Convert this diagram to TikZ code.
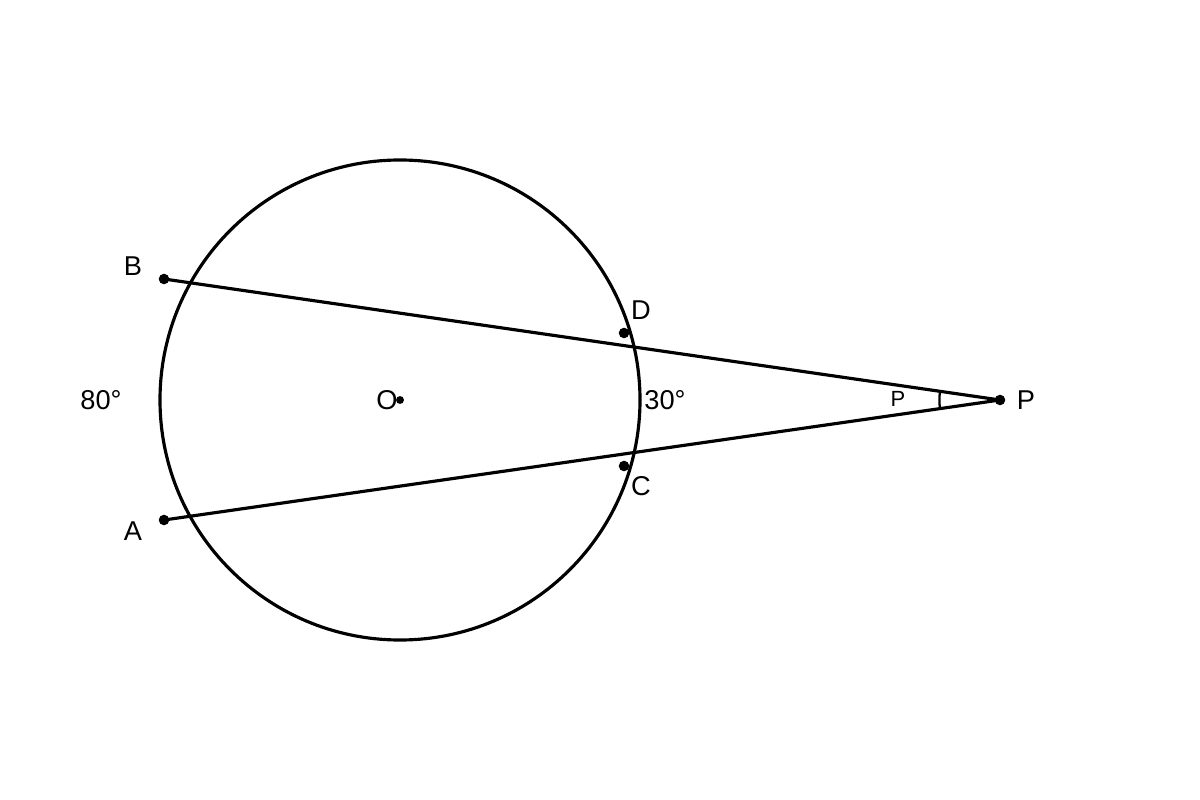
\documentclass[tikz,border=0pt]{standalone}
\usepackage{fontspec}
\usetikzlibrary{calc}
\setmainfont{Liberation Sans}
\begin{document}
\begin{tikzpicture}[x=0.02cm,y=-0.02cm,
  ln/.style={line width=1.8pt},
  dot/.style={circle,fill=black,inner sep=0pt,minimum size=6pt},
  lbl/.style={inner sep=0pt,font=\fontsize{15.5}{17}\selectfont},
  slbl/.style={inner sep=0pt,font=\fontsize{12.5}{14}\selectfont}]
\useasboundingbox (0,0) rectangle (1200,800);
\coordinate (Oc) at (400,400);
\draw[ln] (Oc) circle[radius=240];
\node[dot] (B) at (164,279) {};
\node[dot] (A) at (164,520) {};
\node[dot] (P) at (1000,400) {};
\node[dot] (D) at (624,333) {};
\node[dot] (C) at (624,466) {};
\node[dot,minimum size=4.5pt] (O) at (400,400) {};
\draw[ln] (B.center) -- (P.center);
\draw[ln] (A.center) -- (P.center);
\draw[line width=1.3pt] ($(P.center)+(188.2:60.6)$) coordinate (a1) arc[start angle=188.2,end angle=171.8,radius=60.6];
\node[lbl] (lB) at (133,266) {B};
\node[lbl] (lA) at (133,531) {A};
\node[lbl] (lD) at (641,310) {D};
\node[lbl] (lC) at (641,486) {C};
\node[lbl] (lP) at (1026,400) {P};
\node[lbl] (lO) at (387,400) {O};
\node[lbl] (l80) at (101,400) {80°};
\node[lbl] (l30) at (665,400) {30°};
\node[slbl] (lp) at (898,399) {P};
\end{tikzpicture}
\end{document}
